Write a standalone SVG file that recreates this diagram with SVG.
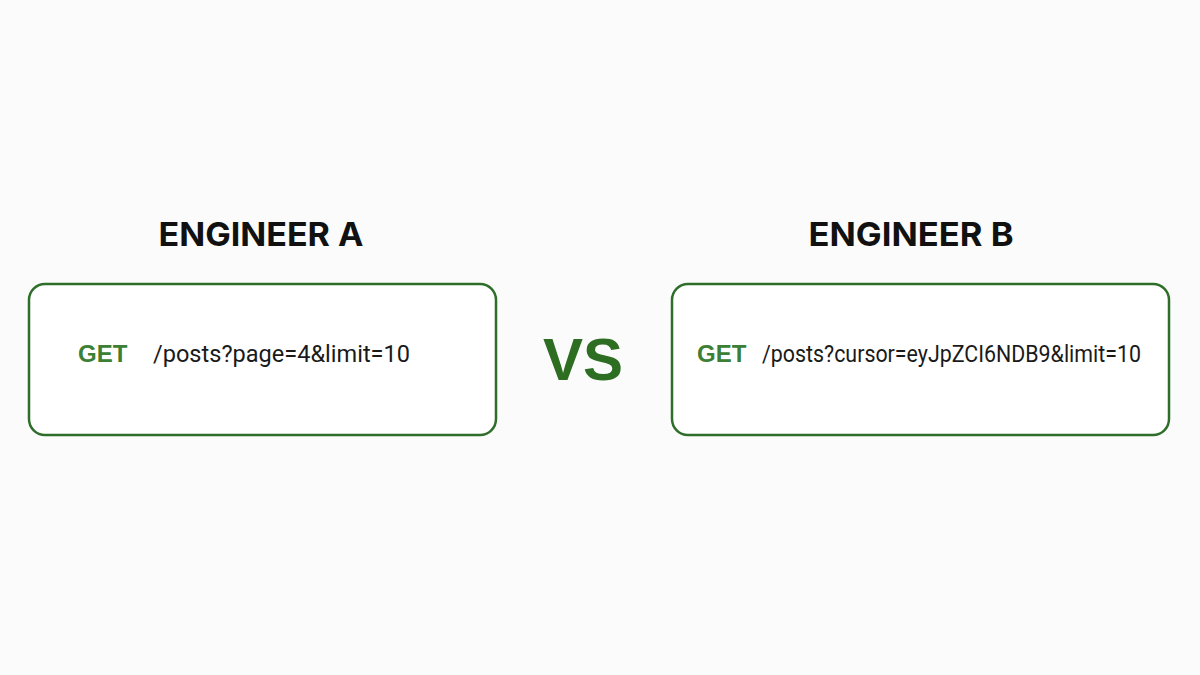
<svg xmlns="http://www.w3.org/2000/svg" width="1200" height="675" viewBox="0 0 1200 675">
<style>
.title{font-family:Inter,"Liberation Sans",sans-serif;font-weight:700;font-size:33px;fill:#111;text-anchor:middle}
.box{fill:#fff;stroke:#2f6e2a;stroke-width:2.5}
.get{font-family:"Liberation Sans",Arial,sans-serif;font-weight:700;font-size:24px;fill:#3b8035}
.path{font-family:Roboto,"Liberation Sans",sans-serif;font-size:23px;fill:#1a1a1a}
.vs{font-family:"Liberation Sans",Arial,sans-serif;font-weight:700;font-size:60px;fill:#2d6e22;text-anchor:middle}
</style>
<rect width="1200" height="675" fill="#fbfbfb"/>
<g id="engineer-a">
<text class="title" x="261" y="246" textLength="205" lengthAdjust="spacingAndGlyphs">ENGINEER A</text>
<rect class="box" x="29" y="284" width="467" height="151" rx="16"/>
<text class="get" x="78" y="362">GET</text>
<text class="path" x="153" y="362" textLength="257" lengthAdjust="spacingAndGlyphs">/posts?page=4&amp;limit=10</text>
</g>
<g id="vs">
<text class="vs" x="583" y="380">VS</text>
</g>
<g id="engineer-b">
<text class="title" x="911" y="246" textLength="205" lengthAdjust="spacingAndGlyphs">ENGINEER B</text>
<rect class="box" x="672" y="284" width="497" height="151" rx="16"/>
<text class="get" x="697" y="362">GET</text>
<text class="path" x="762" y="362" textLength="379" lengthAdjust="spacingAndGlyphs">/posts?cursor=eyJpZCI6NDB9&amp;limit=10</text>
</g>
<g id="connectors"/>
</svg>
